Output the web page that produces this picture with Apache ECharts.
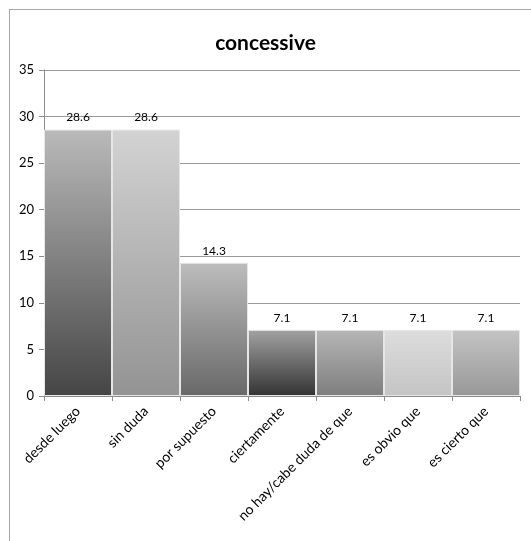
<!DOCTYPE html>
<html>
<head>
<meta charset="utf-8">
<script src="https://cdn.jsdelivr.net/npm/echarts@6/dist/echarts.min.js"></script>
<style>
  html, body { margin: 0; padding: 0; background: #fff; }
  #frame { position: absolute; left: 9px; top: 9px; width: 540px; height: 560px;
           border-left: 1px solid #a8a8a8; border-top: 1px solid #a8a8a8; }
  #chart { position: absolute; left: 0; top: 0; width: 531px; height: 541px; }
</style>
</head>
<body>
<div id="frame"></div>
<div id="chart"></div>
<script>
// Share of each concessive marker (%)
const categories = ['desde luego', 'sin duda', 'por supuesto', 'ciertamente',
  'no hay/cabe duda de que', 'es obvio que', 'es cierto que'];
const values = [28.6, 28.6, 14.3, 7.1, 7.1, 7.1, 7.1];
const yTicks = [0, 5, 10, 15, 20, 25, 30, 35];

// Per-bar grey gradients (top colour, bottom colour)
const gradientTops = ['#bababa', '#d3d3d3', '#bdbdbd', '#a2a2a2', '#b6b6b6', '#dddddd', '#c4c4c4'];
const gradientBottoms = ['#454545', '#939393', '#686868', '#333333', '#7e7e7e', '#c4c4c4', '#989898'];

const chart = echarts.init(document.getElementById('chart'), null, { renderer: 'canvas' });

const fontFamily = 'Lato, "Open Sans", sans-serif';

chart.setOption({
  animation: false,
  title: {
    text: 'concessive',
    left: 'center',
    top: 28,
    textStyle: { fontFamily: fontFamily, fontWeight: 'bold', fontSize: 21, color: '#000' }
  },
  grid: { left: 44, right: 11, top: 70, bottom: 145, containLabel: false },
  xAxis: {
    type: 'category',
    data: categories,
    axisLine: { lineStyle: { color: '#8c8c8c', width: 1 } },
    axisTick: { show: true, alignWithLabel: false, length: 5, lineStyle: { color: '#8c8c8c' } },
    axisLabel: { rotate: 45, interval: 0, margin: 13, color: '#000', fontSize: 14, fontFamily: fontFamily }
  },
  yAxis: {
    type: 'value',
    min: yTicks[0],
    max: yTicks[yTicks.length - 1],
    interval: 5,
    axisLine: { show: true, lineStyle: { color: '#8c8c8c', width: 1 } },
    axisTick: { show: true, length: 5, lineStyle: { color: '#8c8c8c' } },
    axisLabel: { color: '#000', fontSize: 13, margin: 10, fontFamily: fontFamily },
    splitLine: { show: true, lineStyle: { color: '#9a9a9a', width: 1 } }
  },
  series: [{
    type: 'bar',
    barCategoryGap: 0,
    data: values.map((v, i) => ({
      value: v,
      itemStyle: {
        color: new echarts.graphic.LinearGradient(0, 0, 0, 1, [
          { offset: 0, color: gradientTops[i] },
          { offset: 1, color: gradientBottoms[i] }
        ]),
        borderColor: '#e6e6e6',
        borderWidth: 1
      }
    })),
    label: {
      show: true,
      position: 'top',
      distance: 6,
      color: '#000',
      fontSize: 12,
      fontFamily: fontFamily,
      formatter: p => p.value.toFixed(1)
    }
  }]
});
</script>
</body>
</html>
